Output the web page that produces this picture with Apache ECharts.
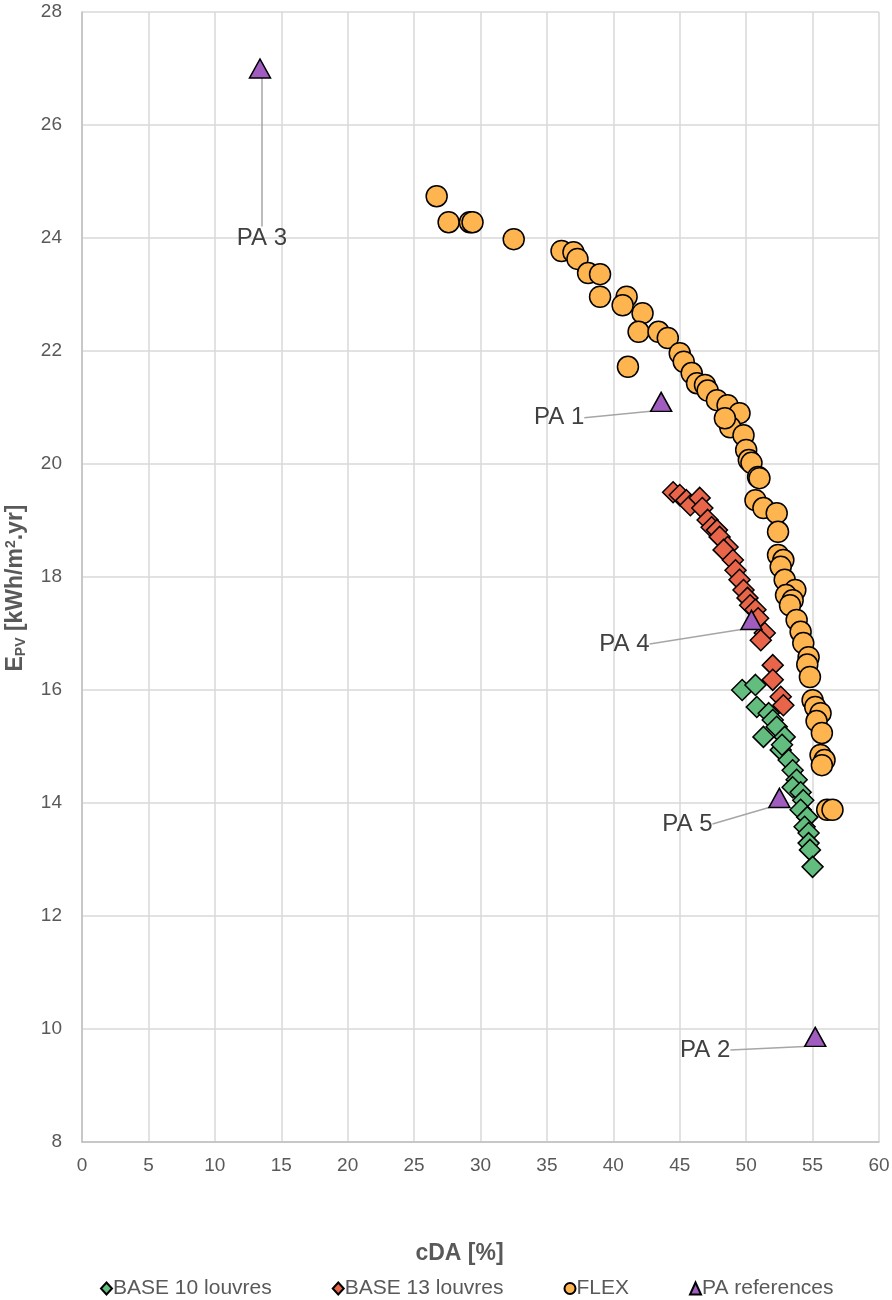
<!DOCTYPE html>
<html>
<head>
<meta charset="utf-8">
<script src="https://cdn.jsdelivr.net/npm/echarts@6/dist/echarts.min.js"></script>
<style>
  html, body { margin: 0; padding: 0; background: #fff; }
  #chart { width: 892px; height: 1300px; }
</style>
</head>
<body>
<div id="chart"></div>
<script>
// cDA [%], E_PV values
var base10 = [
  [49.7, 16.00], [50.7, 16.09], [50.8, 15.70], [51.7, 15.59], [51.3, 15.17],
  [52.0, 15.47], [52.3, 15.35], [52.9, 15.17], [52.6, 14.94], [52.7, 15.03],
  [53.2, 14.76], [53.5, 14.58], [53.8, 14.41], [53.5, 14.28], [54.1, 14.19],
  [54.3, 14.05], [54.1, 13.88], [54.6, 13.75], [54.4, 13.58], [54.7, 13.47],
  [54.7, 13.29], [54.8, 13.17], [55.0, 12.87]
];
var base13 = [
  [44.5, 19.50], [45.0, 19.45], [45.5, 19.36], [45.8, 19.27], [46.5, 19.40],
  [46.7, 19.22], [47.1, 19.01], [47.4, 18.88], [47.8, 18.83], [48.0, 18.71],
  [48.6, 18.53], [48.3, 18.48], [49.0, 18.30], [49.2, 18.12], [49.5, 17.95],
  [49.8, 17.77], [50.1, 17.63], [50.3, 17.50], [50.7, 17.42], [50.9, 17.27],
  [51.4, 17.01], [51.1, 16.88], [52.0, 16.44], [52.0, 16.18], [52.6, 15.88],
  [52.8, 15.73]
];
var flex = [
  [26.7, 24.74], [27.6, 24.28], [29.2, 24.28], [29.4, 24.28], [32.5, 23.98],
  [36.1, 23.77], [37.0, 23.75], [37.3, 23.63], [38.1, 23.38], [39.0, 23.36],
  [39.0, 22.96], [41.0, 22.96], [40.7, 22.81], [42.2, 22.67], [41.9, 22.34],
  [43.4, 22.34], [44.1, 22.23], [45.0, 21.96], [45.3, 21.81], [45.9, 21.61],
  [41.1, 21.72], [46.3, 21.43], [46.9, 21.40], [47.1, 21.30], [47.8, 21.13],
  [48.6, 21.04], [49.5, 20.90], [48.8, 20.65], [48.4, 20.81], [49.8, 20.51],
  [50.0, 20.25], [50.2, 20.07], [50.4, 20.02], [50.9, 19.77], [51.0, 19.75],
  [50.7, 19.36], [51.3, 19.22], [52.3, 19.13], [52.4, 18.80], [52.4, 18.39],
  [52.8, 18.30], [52.6, 18.18], [52.9, 17.95], [53.7, 17.77], [53.0, 17.68],
  [53.5, 17.59], [53.3, 17.50], [53.8, 17.24], [54.1, 17.03], [54.3, 16.83],
  [54.7, 16.58], [54.6, 16.45], [54.8, 16.23], [55.0, 15.82], [55.2, 15.70],
  [55.6, 15.59], [55.3, 15.45], [55.7, 15.24], [55.6, 14.85], [55.9, 14.76],
  [55.7, 14.67], [56.1, 13.88], [56.5, 13.88]
];
var paNames = ['PA 3', 'PA 1', 'PA 4', 'PA 5', 'PA 2'];
var paRefs = [[13.4, 27.0], [43.6, 21.1], [50.4, 17.24], [52.5, 14.09], [55.2, 9.86]];
// label offsets (px) for each PA label
var paOffsets = [[2, 170], [-102, 16], [-127, 24], [-92, 26], [-110, 13]];

var txt = '#595959';
var font = 'Liberation Sans';

var myChart = echarts.init(document.getElementById('chart'));
const option = {
  animation: false,
  textStyle: { fontFamily: font },
  grid: { left: 82, right: 13, top: 12, bottom: 158, outerBoundsMode: 'none', containLabel: false },
  xAxis: {
    type: 'value', min: 0, max: 60, interval: 5,
    name: 'cDA [%]', nameLocation: 'middle', nameGap: 100,
    nameTextStyle: { color: txt, fontSize: 23, fontWeight: 'bold', fontFamily: font, padding: [0, 42, 0, 0] },
    axisLine: { show: true, lineStyle: { color: '#bfbfbf', width: 1.5 } },
    axisTick: { show: false },
    axisLabel: { color: txt, fontSize: 19, margin: 14 },
    splitLine: { show: true, lineStyle: { color: '#d9d9d9', width: 1.5 } }
  },
  yAxis: {
    type: 'value', min: 8, max: 28, interval: 2,
    name: '{b|E}{s|PV}{b| [kWh/m}{p|2}{b|.yr]}',
    nameLocation: 'middle', nameGap: 54,
    nameTextStyle: {
      padding: [0, 22, 0, 0],
      rich: {
        b: { color: txt, fontSize: 23, fontWeight: 'bold', fontFamily: font },
        s: { color: txt, fontSize: 14, fontWeight: 'bold', fontFamily: font, verticalAlign: 'bottom', padding: [10, 0, 0, 0] },
        p: { color: txt, fontSize: 14, fontWeight: 'bold', fontFamily: font, verticalAlign: 'top', padding: [0, 0, 10, 0] }
      }
    },
    axisLine: { show: true, lineStyle: { color: '#bfbfbf', width: 1.5 } },
    axisTick: { show: false },
    axisLabel: { color: txt, fontSize: 19, margin: 20 },
    splitLine: { show: true, lineStyle: { color: '#d9d9d9', width: 1.5 } }
  },
  legend: {
    top: 1273, left: 95, itemGap: 60, itemWidth: 11, itemHeight: 12,
    textStyle: { color: txt, fontSize: 21, fontFamily: font, padding: [0, 0, 0, -4] },
    data: ['BASE 10 louvres', 'BASE 13 louvres', 'FLEX', 'PA references']
  },
  series: [
    {
      name: 'BASE 10 louvres', type: 'scatter', symbol: 'diamond', symbolSize: 21,
      itemStyle: { color: '#62bd7f', borderColor: '#000', borderWidth: 1.5, opacity: 1 },
      data: base10
    },
    {
      name: 'BASE 13 louvres', type: 'scatter', symbol: 'diamond', symbolSize: 21,
      itemStyle: { color: '#e9654a', borderColor: '#000', borderWidth: 1.5, opacity: 1 },
      data: base13
    },
    {
      name: 'FLEX', type: 'scatter', symbol: 'circle', symbolSize: 21,
      itemStyle: { color: '#ffb54f', borderColor: '#000', borderWidth: 1.5, opacity: 1 },
      data: flex
    },
    {
      name: 'PA references', type: 'scatter', symbol: 'triangle', symbolSize: [21, 19],
      itemStyle: { color: '#a05cbf', borderColor: '#000', borderWidth: 1.5, opacity: 1 },
      data: paRefs.map(function (p, i) { return { value: p, name: paNames[i] }; }),
      label: {
        show: true, position: 'inside', formatter: '{b}',
        color: '#404040', fontSize: 24, fontFamily: font
      },
      labelLine: { show: true, lineStyle: { color: '#a6a6a6', width: 1.5 } },
      labelLayout: function (params) {
        var o = paOffsets[params.dataIndex];
        return { dx: o[0], dy: o[1] };
      }
    }
  ]
};

myChart.setOption(option);
window.addEventListener('resize', () => {
  myChart.resize();
});
</script>
</body>
</html>
